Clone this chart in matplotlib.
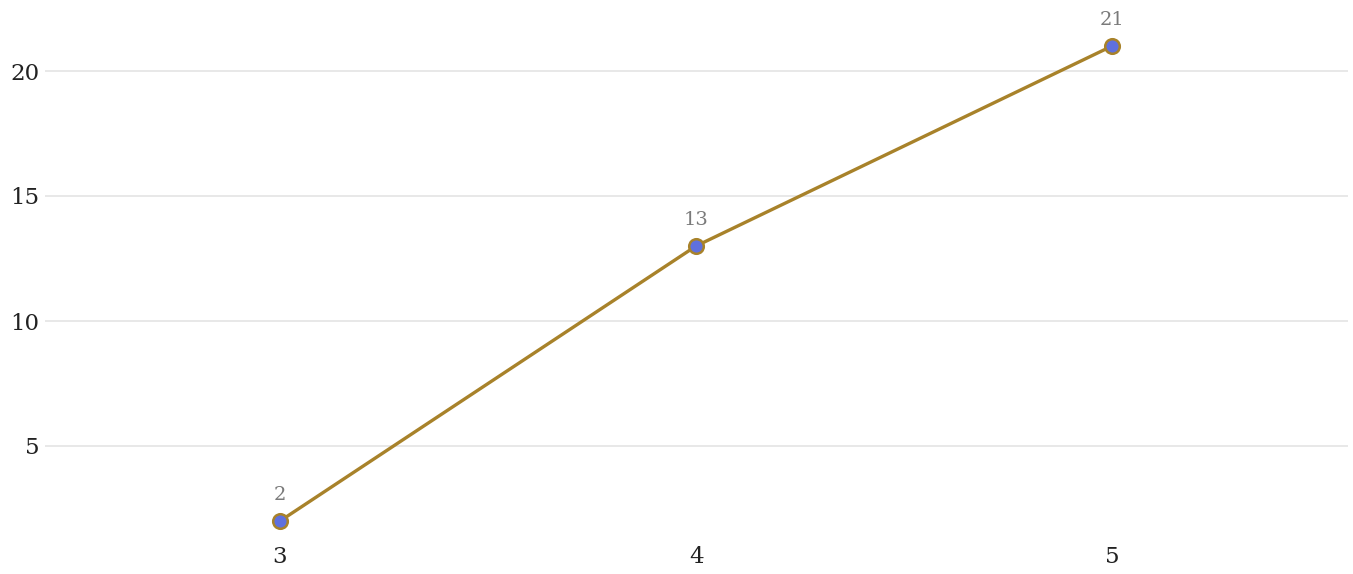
import matplotlib.pyplot as plt

x_vals = [3, 4, 5]
y_vals = [2, 13, 21]
y_ticks = [5, 10, 15, 20]

W, H = 1353, 574
fig = plt.figure(figsize=(W / 100, H / 100), dpi=100)
ax = fig.add_axes([45 / W, 34 / H, (1348 - 45) / W, 1 - 34 / H])

line_col = '#A8822A'
ax.plot(x_vals, y_vals, color=line_col, lw=2.4, marker='o', ms=10.5,
        mfc='#5F70DE', mec=line_col, mew=1.8, zorder=3)

for xv, yv in zip(x_vals, y_vals):
    ax.annotate(str(yv), (xv, yv), xytext=(0, 12), textcoords='offset points',
                ha='center', va='bottom', fontsize=14, color='#7a7a7a',
                family='DejaVu Serif')

ax.set_xlim(2.435, 5.567)
ax.set_ylim(1.24, 22.84)
ax.set_xticks(x_vals)
ax.set_yticks(y_ticks)
ax.grid(axis='y', color='#e6e6e6', lw=1.3)
ax.set_axisbelow(True)
for s in ax.spines.values():
    s.set_visible(False)
ax.tick_params(length=0, labelsize=16.5, labelcolor='#222222', pad=4)
for lab in ax.get_xticklabels() + ax.get_yticklabels():
    lab.set_family('DejaVu Serif')

fig.savefig('out.png', dpi=100)
